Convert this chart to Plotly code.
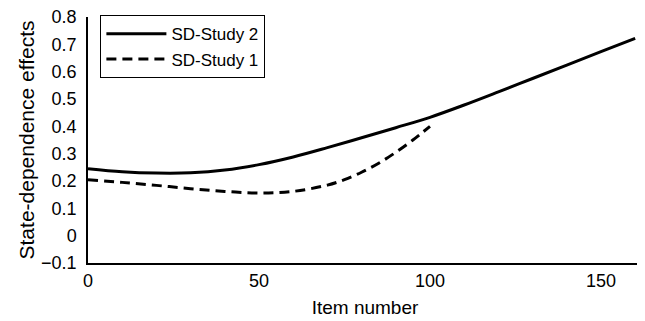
import plotly.graph_objects as go

items_s2 = [0, 10, 20, 30, 40, 50, 60, 70, 80, 90, 100, 110, 120, 130, 140, 150, 160]
effects_s2 = [0.245, 0.234, 0.229, 0.230, 0.240, 0.260, 0.288, 0.322, 0.358, 0.395, 0.433, 0.478, 0.526, 0.575, 0.624, 0.673, 0.722]

items_s1 = [0, 10, 20, 30, 40, 50, 60, 70, 75, 80, 85, 90, 95, 100]
effects_s1 = [0.205, 0.195, 0.184, 0.172, 0.162, 0.156, 0.162, 0.185, 0.205, 0.232, 0.265, 0.305, 0.35, 0.40]

x_ticks = [0, 50, 100, 150]
y_ticks = [-0.1, 0, 0.1, 0.2, 0.3, 0.4, 0.5, 0.6, 0.7, 0.8]
y_tick_labels = ["\u22120.1", "0", "0.1", "0.2", "0.3", "0.4", "0.5", "0.6", "0.7", "0.8"]

font_family = "Liberation Sans, Arial, sans-serif"

fig = go.Figure()
fig.add_trace(go.Scatter(
    x=items_s2, y=effects_s2, mode="lines", name="SD-Study 2",
    line=dict(color="black", width=3, shape="spline"),
))
fig.add_trace(go.Scatter(
    x=items_s1, y=effects_s1, mode="lines", name="SD-Study 1",
    line=dict(color="black", width=3, shape="spline", dash="10px,6px"),
))

fig.update_layout(
    width=637, height=313,
    margin=dict(l=80, r=3, t=9, b=58),
    paper_bgcolor="white", plot_bgcolor="white",
    font=dict(family=font_family, size=18, color="black"),
    showlegend=True,
    legend=dict(
        x=0.022, y=1.008, xanchor="left", yanchor="top",
        bordercolor="black", borderwidth=1.2, bgcolor="white",
        font=dict(size=17), itemwidth=60,
        tracegroupgap=0,
    ),
    xaxis=dict(
        range=[0, 162], tickmode="array", tickvals=x_ticks,
        showgrid=False, zeroline=False, showline=True,
        linecolor="black", linewidth=1.5, ticks="",
        ticklabelstandoff=1, automargin=False, ticklabeloverflow="allow",
        tickfont=dict(size=18),
        title=dict(text="Item number", font=dict(size=19), standoff=10),
    ),
    yaxis=dict(
        range=[-0.1, 0.8], tickmode="array", tickvals=y_ticks, ticktext=y_tick_labels,
        showgrid=False, zeroline=False, showline=True,
        linecolor="black", linewidth=1.5, ticks="",
        ticklabelstandoff=6, automargin=False, ticklabeloverflow="allow",
        tickfont=dict(size=18),
        title=dict(text="State-dependence effects", font=dict(size=21), standoff=1),
    ),
)

fig.write_html("out.html")
